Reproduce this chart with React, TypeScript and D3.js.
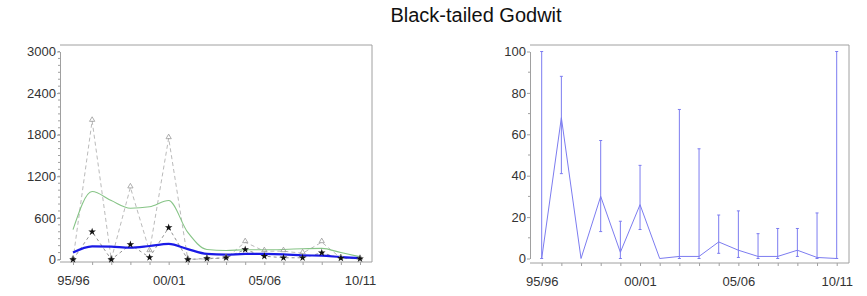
import React, { useEffect, useRef } from "react";
import * as d3 from "d3";

const seasons = ["95/96", "96/97", "97/98", "98/99", "99/00", "00/01", "01/02", "02/03", "03/04", "04/05", "05/06", "06/07", "07/08", "08/09", "09/10", "10/11"];
const labelSeasons = ["95/96", "00/01", "05/06", "10/11"];

// left panel: counts
const maxCounts = [0, 2000, 0, 1040, 120, 1750, 0, 10, 20, 250, 120, 120, 90, 250, 20, 10];
const meanCounts = [0, 400, 0, 215, 30, 460, 0, 15, 25, 143, 48, 25, 25, 96, 20, 10];
const smoothUpper = [430, 980, 850, 740, 760, 850, 390, 145, 130, 140, 140, 145, 155, 160, 100, 40];
const smoothMean = [100, 190, 185, 170, 195, 225, 150, 80, 70, 80, 80, 75, 60, 55, 35, 20];
const countTicks = [0, 600, 1200, 1800, 2400, 3000];

// right panel: percentages with error bars
const pct = [0, 68, 0, 30, 3, 26, 0, 1, 1, 8, 4, 1, 1, 4, 0.5, 0];
const pctLow = [0, 41, 0, 13, 0, 14, 0, 0, 0, 2.5, 0.5, 0, 0, 1, 0, 0];
const pctHigh = [100, 88, 0, 57, 18, 45, 0, 72, 53, 21, 23, 12, 14.5, 14.5, 22, 100];
const pctTicks = [0, 20, 40, 60, 80, 100];

const FONT = "Liberation Sans, Arial, sans-serif";

function styleAxis(g: any) {
  g.select(".domain").attr("stroke", "#a0a0a0");
  g.selectAll(".tick line").attr("stroke", "#a0a0a0");
  g.selectAll(".tick text").attr("fill", "#333").attr("font-size", "13px").attr("font-family", FONT);
}

export default function App() {
  const ref = useRef<SVGSVGElement>(null);

  useEffect(() => {
    const svg = d3.select(ref.current);
    svg.selectAll("*").remove();

    svg.append("text").text("Black-tailed Godwit").attr("x", 476).attr("y", 22)
      .attr("text-anchor", "middle").attr("font-size", "20px").attr("font-family", FONT).attr("fill", "#111");

    // ---------- left chart
    const L = { left: 60, right: 372, top: 45, bottom: 262 };
    const x1 = d3.scalePoint().domain(seasons).range([73, 360]);
    const y1 = d3.scaleLinear().domain([0, 3000]).range([259.5, 51.5]);
    const g1 = svg.append("g");

    g1.append("path").attr("d", `M${L.left},${L.top}H${L.right}V${L.bottom}`).attr("fill", "none").attr("stroke", "#a0a0a0");

    const yAxis1 = g1.append("g").attr("transform", `translate(${L.left},0)`)
      .call(d3.axisLeft(y1).tickValues(countTicks).tickFormat(d3.format("d")).tickSize(3).tickPadding(1).tickSizeOuter(0));
    styleAxis(yAxis1);
    yAxis1.selectAll(".minor").data(d3.range(0, 3001, 100)).join("line").attr("class", "minor")
      .attr("x1", -2).attr("x2", 0).attr("y1", d => y1(d)).attr("y2", d => y1(d)).attr("stroke", "#a0a0a0");

    const xAxis1 = g1.append("g").attr("transform", `translate(0,${L.bottom})`)
      .call(d3.axisBottom(x1).tickSize(3).tickPadding(11).tickSizeOuter(0)
        .tickFormat(d => (labelSeasons.includes(d as string) ? (d as string) : "")));
    xAxis1.select(".domain").attr("d", `M${L.left},0H${L.right}`);
    styleAxis(xAxis1);

    const line1 = d3.line<number>().x((_, i) => x1(seasons[i])!).y(d => y1(d));
    const smooth1 = d3.line<number>().x((_, i) => x1(seasons[i])!).y(d => y1(d)).curve(d3.curveMonotoneX);

    g1.append("path").attr("d", line1(maxCounts)).attr("fill", "none").attr("stroke", "#a8a8a8")
      .attr("stroke-width", 0.8).attr("stroke-dasharray", "4,3");
    g1.append("path").attr("d", line1(meanCounts)).attr("fill", "none").attr("stroke", "#777")
      .attr("stroke-width", 0.8).attr("stroke-dasharray", "3,3");
    g1.append("path").attr("d", smooth1(smoothUpper)).attr("fill", "none").attr("stroke", "#86c486").attr("stroke-width", 1.1);
    g1.append("path").attr("d", smooth1(smoothMean)).attr("fill", "none").attr("stroke", "#1a1ae6").attr("stroke-width", 2.2);

    const tri = d3.symbol().type(d3.symbolTriangle).size(12);
    g1.selectAll(".tri").data(maxCounts).join("path").attr("class", "tri").attr("d", tri)
      .attr("transform", (d, i) => `translate(${x1(seasons[i])},${y1(d) - 1})`)
      .attr("fill", "none").attr("stroke", "#999").attr("stroke-width", 0.8);
    const star = d3.symbol().type(d3.symbolStar).size(18);
    g1.selectAll(".star").data(meanCounts).join("path").attr("class", "star").attr("d", star)
      .attr("transform", (d, i) => `translate(${x1(seasons[i])},${y1(d)})`).attr("fill", "#111");

    // ---------- right chart
    const R = { left: 530, right: 849, top: 45, bottom: 263 };
    const x2 = d3.scalePoint().domain(seasons).range([541.7, 836.7]);
    const y2 = d3.scaleLinear().domain([0, 100]).range([258.5, 51.5]);
    const g2 = svg.append("g");

    g2.append("path").attr("d", `M${R.left},${R.top}H${R.right}V${R.bottom}`).attr("fill", "none").attr("stroke", "#a0a0a0");

    const yAxis2 = g2.append("g").attr("transform", `translate(${R.left},0)`)
      .call(d3.axisLeft(y2).tickValues(pctTicks).tickSize(3).tickPadding(1).tickSizeOuter(0));
    styleAxis(yAxis2);
    yAxis2.selectAll(".minor").data(d3.range(10, 100, 20)).join("line").attr("class", "minor")
      .attr("x1", -2).attr("x2", 0).attr("y1", d => y2(d)).attr("y2", d => y2(d)).attr("stroke", "#a0a0a0");

    const xAxis2 = g2.append("g").attr("transform", `translate(0,${R.bottom})`)
      .call(d3.axisBottom(x2).tickSize(3).tickPadding(11).tickSizeOuter(0)
        .tickFormat(d => (labelSeasons.includes(d as string) ? (d as string) : "")));
    xAxis2.select(".domain").attr("d", `M${R.left},0H${R.right}`);
    styleAxis(xAxis2);

    const blue = "#7c7cf0";
    g2.selectAll(".err").data(pct).join("line").attr("class", "err")
      .attr("x1", (_, i) => x2(seasons[i])!).attr("x2", (_, i) => x2(seasons[i])!)
      .attr("y1", (_, i) => y2(pctLow[i])).attr("y2", (_, i) => y2(pctHigh[i]))
      .attr("stroke", blue).attr("stroke-width", 1);
    const caps = seasons.flatMap((s, i) => (pctHigh[i] > pctLow[i] ? [[s, pctLow[i]], [s, pctHigh[i]]] : [])) as [string, number][];
    g2.selectAll(".cap").data(caps).join("line").attr("class", "cap")
      .attr("x1", d => x2(d[0])! - 1.5).attr("x2", d => x2(d[0])! + 1.5)
      .attr("y1", d => y2(d[1])).attr("y2", d => y2(d[1])).attr("stroke", blue);
    const line2 = d3.line<number>().x((_, i) => x2(seasons[i])!).y(d => y2(d));
    g2.append("path").attr("d", line2(pct)).attr("fill", "none").attr("stroke", blue).attr("stroke-width", 1);
  }, []);

  return (
    <svg ref={ref} width={867} height={296} style={{ position: "absolute", left: 0, top: 0, background: "#fff" }} />
  );
}
